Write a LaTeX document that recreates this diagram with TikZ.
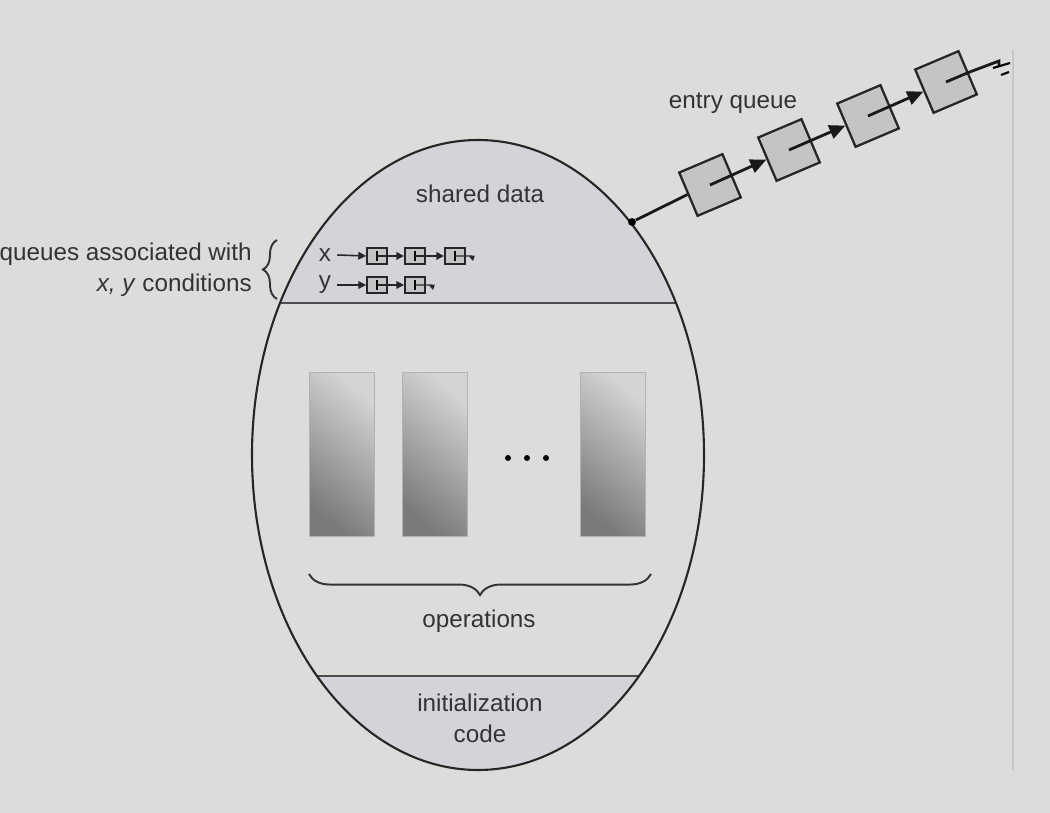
\documentclass[tikz,border=0pt]{standalone}
\usepackage{fontspec}
\setmainfont{Liberation Sans}
\usetikzlibrary{arrows.meta,positioning,calc,decorations.pathreplacing}

\definecolor{slidebg}{RGB}{220,220,218}
\definecolor{secfill}{RGB}{213,211,217}
\definecolor{boxfill}{RGB}{196,196,199}

\begin{document}
\begin{tikzpicture}[
    x=0.02cm, y=-0.02cm,
    font=\fontsize{13.8}{17.6}\selectfont,
    text=black!80,
    outline/.style={line width=1.2pt, draw=black!85},
    divider/.style={line width=1.4pt, draw=black!70},
    qbox/.style={draw=black!85, line width=0.8pt, fill=boxfill,
        minimum width=4mm, minimum height=3.2mm, inner sep=0pt},
    ebox/.style={draw=black!85, line width=1.3pt, fill=boxfill,
        minimum size=9.4mm, inner sep=0pt, rotate=23},
    opbox/.style={draw=black!30, thin, minimum width=13mm, minimum height=32.8mm,
        inner sep=0pt, top color=black!17, bottom color=black!52, shading angle=-40},
    sarrow/.style={-{Triangle[length=1.6mm, width=1.5mm]}, line width=0.9pt, draw=black!85},
    stail/.style={-{Triangle[length=1mm, width=1.1mm]}, line width=0.8pt, draw=black!85},
    qline/.style={line width=1.6pt, draw=black!90},
    qarrow/.style={-{Triangle[length=3.2mm, width=2.8mm]}, line width=1.6pt, draw=black!90},
    brace/.style={decorate, line width=1.1pt, draw=black!80},
    dotnode/.style={circle, fill=black, inner sep=0pt, minimum size=4.5pt},
]
\useasboundingbox (0,0) rectangle (1050,813);
\fill[slidebg] (0,0) rectangle (1050,813);
\draw[black!22, line width=0.6pt] (1013,50) -- (1013,770);

% monitor body
\begin{scope}
  \clip (478,455) ellipse [x radius=226, y radius=315];
  \fill[secfill] (240,130) rectangle (720,303);
  \fill[secfill] (240,676) rectangle (720,780);
  \draw[divider] (240,303) -- (720,303);
  \draw[divider] (240,676) -- (720,676);
\end{scope}
\draw[outline] (478,455) ellipse [x radius=226, y radius=315];

\node (shared) at (480,194) {shared data};
\node[align=center] (init) at (480,718) {initialization\\code};

% condition queues
\node (xlab) at (325,255) {x};
\node (ylab) at (325,285) {y};
\foreach \i/\px in {1/377,2/415,3/455}
  \node[qbox] (x\i) at (\px,256) {};
\foreach \i/\px in {1/377,2/415}
  \node[qbox] (y\i) at (\px,285) {};
\foreach \n in {x1,x2,x3,y1,y2}
  \draw[line width=0.7pt] ([yshift=-1mm]\n.center) -- ([yshift=1mm]\n.center);
\draw[sarrow] (xlab.east) -- (x1.west);
\draw[sarrow] (x1.center) -- (x2.west);
\draw[sarrow] (x2.center) -- (x3.west);
\draw[stail] (x3.center) -- ++(17,0) -- ++(1,5);
\draw[sarrow] (ylab.east) -- (y1.west);
\draw[sarrow] (y1.center) -- (y2.west);
\draw[stail] (y2.center) -- ++(17,0) -- ++(1,5);

\node[anchor=east, inner sep=0pt] (qlab) at (252,254) {queues associated with};
\node[anchor=east, inner sep=0pt] (clab) at (252,285) {\textit{x, y} conditions};
\draw[brace, decoration={brace, amplitude=8pt}] (277,299) -- (277,240);

% operations
\node[opbox, shade] (op1) at (342,454) {};
\node[opbox, shade] (op2) at (435,454) {};
\node[opbox, shade] (opn) at (613,454) {};
\foreach \px in {508,527,546}
  \fill[black] (\px,458) circle (1.7pt);
\draw[brace, decoration={brace, amplitude=12pt}] (651,574) -- (309,574);
\node (ops) at (479,621) {operations};

% entry queue
\node[dotnode] (tap) at (632,222) {};
\foreach \i/\px/\py in {1/710/185, 2/789/150, 3/868/116, 4/946/82}
  \node[ebox] (e\i) at (\px,\py) {};
\draw[qline] (tap) -- (e1.west);
\foreach \i/\j in {1/2, 2/3, 3/4}
  \draw[qarrow] (e\i.center) -- (e\j.west);
\coordinate (nil) at (999,61);
\draw[qline] (e4.center) -- (e4.east) -- (nil) -- ++(0,6);
\draw[line width=1.2pt] ($(nil)+(-6,7)$) -- ++(17,-5);
\draw[line width=1.2pt] ($(nil)+(2,14)$) -- ++(8,-3);
\node (eq) at (733,103) {entry queue};
\end{tikzpicture}
\end{document}
